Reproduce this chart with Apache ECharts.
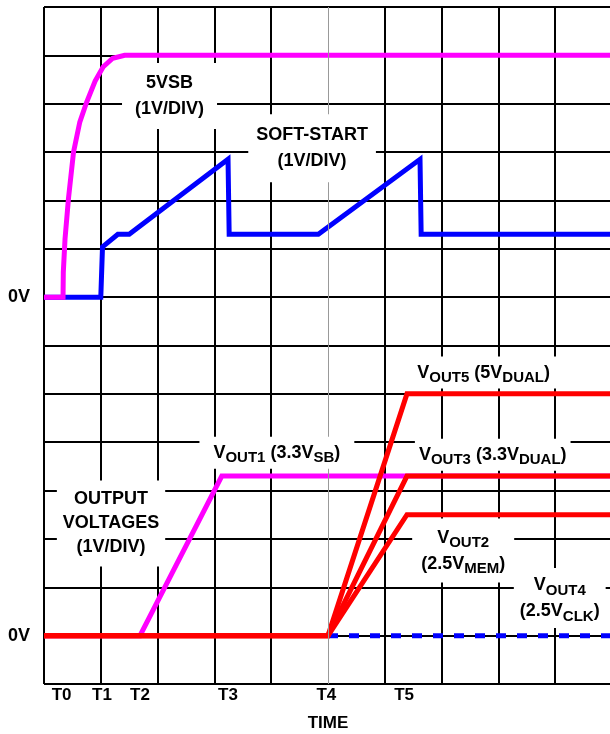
<!DOCTYPE html>
<html>
<head>
<meta charset="utf-8">
<script src="https://cdn.jsdelivr.net/npm/echarts@6/dist/echarts.min.js"></script>
<style>
html, body { margin: 0; padding: 0; background: #fff; }
#chart { width: 610px; height: 734px; }
</style>
</head>
<body>
<div id="chart"></div>
<script>
// 时间单位：格；电压单位：V（1V/格）
// 上半部分 0V 在从下往上第 8 格，输出电压 0V 在第 1 格

// 5VSB
var vsb5 = [[0, 0], [0.335, 0], [0.34, 0.52], [0.37, 1.2], [0.43, 2.03], [0.52, 3.0], [0.63, 3.62],
	[0.75, 4.03], [0.9, 4.47], [1.04, 4.76], [1.21, 4.94], [1.42, 5.0], [10, 5.0]];
// 软启动
var softStart = [[0, 0], [1.0, 0], [1.03, 1.04], [1.3, 1.3], [1.5, 1.3], [3.24, 2.85], [3.26, 1.3],
	[4.83, 1.3], [6.62, 2.85], [6.64, 1.3], [10, 1.3]];
// 输出电压
var vout1 = [[0, 0], [1.69, 0], [3.13, 3.3], [10, 3.3]];
var vout2 = [[0, 0], [5.0, 0], [6.39, 2.5], [10, 2.5]];
var vout3 = [[0, 0], [5.0, 0], [6.39, 3.3], [10, 3.3]];
var vout5 = [[0, 0], [5.0, 0], [6.39, 5.0], [10, 5.0]];
var vout4 = [[5.0, 0], [10, 0]];

// 时间刻度
var timeNames = ['T0', 'T1', 'T2', 'T3', 'T4', 'T5'];
var timeValues = [0.31, 1.02, 1.69, 3.24, 4.97, 6.34];
var t4 = 5;

var FONT = '"Liberation Sans", Arial, sans-serif';
var TEXT = '#000';

// 文字标注（白底）
var notesTop = [
	{ value: [2.21, 4.16], text: '{b|5VSB}\n{b|(1V/DIV)}', pad: [7, 13] },
	{ value: [4.72, 3.08], text: '{b|SOFT-START}\n{b|(1V/DIV)}', pad: [8, 8] }
];
var notesBottom = [
	{ value: [1.18, 2.32], text: '{c|OUTPUT}\n{c|VOLTAGES}\n{c|(1V/DIV)}', pad: [7, 6] },
	{ value: [4.10, 3.78], text: '{b|V}{s|OUT1}{b| (3.3V}{s|SB}{b|)}', pad: [3, 14] },
	{ value: [7.74, 5.44], text: '{b|V}{s|OUT5}{b| (5V}{s|DUAL}{b|)}', pad: [3, 10] },
	{ value: [7.90, 3.74], text: '{b|V}{s|OUT3}{b| (3.3V}{s|DUAL}{b|)}', pad: [3, 4] },
	{ value: [7.38, 1.76], text: '{b|V}{s|OUT2}\n{b|(2.5V}{s|MEM}{b|)}', pad: [6, 9] },
	{ value: [9.08, 0.78], text: '{b|V}{s|OUT4}\n{b|(2.5V}{s|CLK}{b|)}', pad: [4, 6] }
];

var rich = {
	b: { fontFamily: FONT, fontWeight: 'bold', fontSize: 18, color: TEXT, lineHeight: 26, align: 'center' },
	s: { fontFamily: FONT, fontWeight: 'bold', fontSize: 15, color: TEXT, lineHeight: 17, verticalAlign: 'bottom', align: 'center' },
	c: { fontFamily: FONT, fontWeight: 'bold', fontSize: 18, color: TEXT, lineHeight: 24, align: 'center' }
};

function noteData(list) {
	return list.map(function (n) {
		return { value: n.value, label: { formatter: n.text, padding: n.pad } };
	});
}

function trace(name, data, color, yIndex, extra) {
	var s = {
		name: name,
		type: 'line',
		yAxisIndex: yIndex,
		data: data,
		symbol: 'none',
		animation: false,
		silent: true,
		lineStyle: { color: color, width: 5, join: 'miter' }
	};
	if (extra) Object.assign(s.lineStyle, extra);
	return s;
}

function noteSeries(list, yIndex) {
	return {
		type: 'scatter',
		yAxisIndex: yIndex,
		symbolSize: 0,
		silent: true,
		animation: false,
		z: 10,
		itemStyle: { opacity: 1 },
		label: {
			show: true,
			position: 'inside',
			backgroundColor: '#fff',
			opacity: 1,
			rich: rich
		},
		data: noteData(list)
	};
}

// 每格一条竖线，T4 处换成细灰线
var vColors = [];
for (var i = 0; i <= 10; i++) vColors.push(i === t4 ? 'rgba(0,0,0,0)' : '#000');

var myChart = echarts.init(document.getElementById('chart'), null, { renderer: 'canvas' });

var option = {
	backgroundColor: '#fff',
	animation: false,
	grid: {
		left: 44,
		top: 7,
		width: 568,
		height: 677,
		outerBoundsMode: 'none'
	},
	xAxis: {
		type: 'value',
		min: 0,
		max: 10,
		interval: 1,
		axisLine: { show: false },
		axisTick: { show: false },
		splitLine: { show: true, lineStyle: { color: vColors, width: 2 } },
		axisLabel: {
			customValues: timeValues,
			formatter: function (v) {
				var k = timeValues.indexOf(v);
				return k >= 0 ? timeNames[k] : '';
			},
			margin: 3,
			fontFamily: FONT,
			fontWeight: 'bold',
			fontSize: 17,
			color: TEXT
		},
		name: 'TIME',
		nameLocation: 'middle',
		nameGap: 31,
		nameTextStyle: { fontFamily: FONT, fontWeight: 'bold', fontSize: 17, color: TEXT }
	},
	yAxis: [
		{
			type: 'value',
			position: 'left',
			min: -8,
			max: 6,
			interval: 1,
			axisLine: { show: false },
			axisTick: { show: false },
			splitLine: { show: true, lineStyle: { color: '#000', width: 2 } },
			axisLabel: {
				formatter: function (v) { return v === 0 ? '0V' : ''; },
				margin: 14,
				fontFamily: FONT,
				fontWeight: 'bold',
				fontSize: 18,
				color: TEXT
			}
		},
		{
			type: 'value',
			position: 'left',
			min: -1,
			max: 13,
			interval: 1,
			axisLine: { show: false },
			axisTick: { show: false },
			splitLine: { show: false },
			axisLabel: {
				formatter: function (v) { return v === 0 ? '0V' : ''; },
				margin: 14,
				fontFamily: FONT,
				fontWeight: 'bold',
				fontSize: 18,
				color: TEXT
			}
		}
	],
	series: [
		Object.assign(trace('SOFT-START', softStart, '#0000ff', 0), {
			markLine: {
				silent: true,
				symbol: 'none',
				label: { show: false },
				lineStyle: { color: '#999', width: 1, type: 'solid' },
				data: [{ xAxis: t4 }]
			}
		}),
		trace('5VSB', vsb5, '#ff00ff', 0),
		trace('VOUT1', vout1, '#ff00ff', 1),
		trace('VOUT4', vout4, '#0000ff', 1, { type: [10, 11] }),
		trace('VOUT2', vout2, '#ff0000', 1),
		trace('VOUT3', vout3, '#ff0000', 1),
		trace('VOUT5', vout5, '#ff0000', 1),
		noteSeries(notesTop, 0),
		noteSeries(notesBottom, 1)
	]
};

myChart.setOption(option);
</script>
</body>
</html>
